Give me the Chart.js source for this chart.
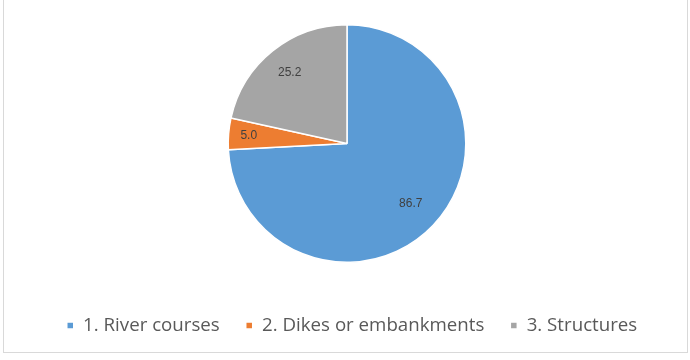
<!DOCTYPE html>
<html>
<head>
<meta charset="utf-8">
<script src="https://cdn.jsdelivr.net/npm/chart.js@4/dist/chart.umd.min.js"></script>
<style>
html,body{margin:0;padding:0;background:#fff;}
#wrap{position:relative;width:690px;height:360px;}
</style>
</head>
<body>
<div id="wrap"><canvas id="c" width="690" height="360"></canvas></div>
<script>
const categories = ["1. River courses", "2. Dikes or embankments", "3. Structures"];
const values = [86.7, 5.0, 25.2];
const valueLabels = ["86.7", "5.0", "25.2"];
const colors = ["#5B9BD5", "#ED7D31", "#A5A5A5"];
const labelRadiusFrac = [0.74, 0.83, 0.77];

const framePlugin = {
  id: 'frame',
  beforeDraw(chart) {
    const ctx = chart.ctx;
    ctx.save();
    ctx.fillStyle = '#ffffff';
    ctx.fillRect(0, 0, chart.width, chart.height);
    ctx.strokeStyle = '#d9d9d9';
    ctx.lineWidth = 1;
    ctx.strokeRect(3.5, -5, 684, 357.5);
    ctx.restore();
  }
};

const legendShift = {
  id: 'legendShift',
  afterLayout(chart) {
    if (chart.legend) {
      chart.legend.left += 5;
      chart.legend.right += 5;
    }
  }
};

const labelPlugin = {
  id: 'sliceLabels',
  afterDatasetsDraw(chart) {
    const ctx = chart.ctx;
    const meta = chart.getDatasetMeta(0);
    ctx.save();
    ctx.font = '12px "Liberation Sans", Arial, sans-serif';
    ctx.fillStyle = '#404040';
    ctx.textAlign = 'center';
    ctx.textBaseline = 'middle';
    meta.data.forEach((arc, i) => {
      const p = arc.getProps(['x','y','startAngle','endAngle','outerRadius'], true);
      const mid = (p.startAngle + p.endAngle) / 2;
      const r = p.outerRadius * labelRadiusFrac[i];
      ctx.fillText(valueLabels[i], p.x + Math.cos(mid) * r, p.y + Math.sin(mid) * r);
    });
    ctx.restore();
  }
};

new Chart(document.getElementById('c'), {
  type: 'pie',
  data: {
    labels: categories,
    datasets: [{
      data: values,
      backgroundColor: colors,
      borderColor: '#ffffff',
      borderWidth: 1.5
    }]
  },
  options: {
    responsive: false,
    animation: false,
    layout: { padding: { top: 24, left: 14, right: 10, bottom: 15.1 } },
    plugins: {
      tooltip: { enabled: false },
      legend: {
        position: 'bottom',
        title: { display: true, text: ' ', font: { size: 10 }, padding: { top: 15.1, bottom: 0 } },
        labels: {
          boxWidth: 7,
          boxHeight: 7,
          padding: 26,
          color: '#595959',
          font: { size: 18.7, family: '"Open Sans", "Liberation Sans", sans-serif' }
        }
      }
    }
  },
  plugins: [framePlugin, legendShift, labelPlugin]
});
</script>
</body>
</html>
